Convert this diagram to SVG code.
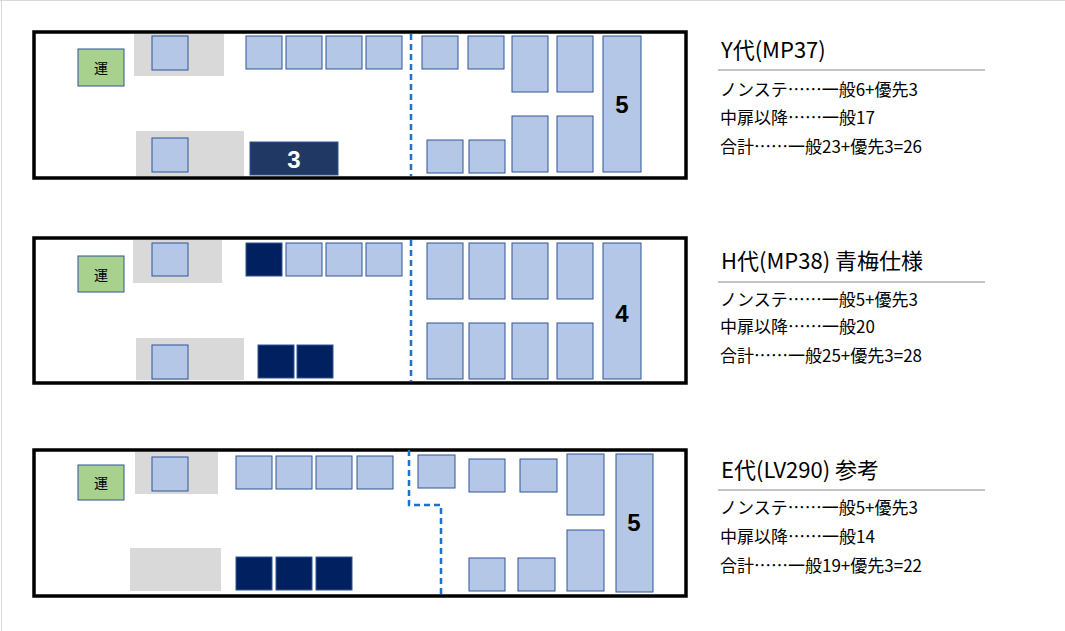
<svg xmlns="http://www.w3.org/2000/svg" width="1065" height="631" viewBox="0 0 1065 631">
<style>
.bus{fill:#fff;stroke:#000;stroke-width:3.5}
.g{fill:#d9d9d9}
.s{fill:#b4c7e7;stroke:#2f5597;stroke-width:1}
.d{fill:#002060;stroke:#2f5597;stroke-width:1}
.drv{fill:#a9d18e;stroke:#2f5597;stroke-width:1}
.dash{fill:none;stroke:#1f70c8;stroke-width:2.5;stroke-dasharray:6,4}
.t{font-family:"Noto Sans CJK JP","Noto Sans",sans-serif;font-size:22px;fill:#000}
.i{font-family:"Noto Sans CJK JP","Noto Sans",sans-serif;font-size:17px;fill:#000}
.n{font-family:"Liberation Sans",Arial,sans-serif;font-weight:bold;font-size:24px;text-anchor:middle}
.k{font-family:"Noto Sans CJK JP",serif;font-size:14px;text-anchor:middle}
.hl{stroke:#888;stroke-width:1}
</style>
<rect x="0" y="0" width="1065" height="631" fill="#fff"/>
<line x1="1.5" y1="0" x2="1.5" y2="631" stroke="#d9d9d9"/>
<line x1="0" y1="0.5" x2="1065" y2="0.5" stroke="#d9d9d9"/>
<g id="bus-Y">
<rect class="bus" x="34" y="32" width="652" height="146"/>
<rect class="g" x="134" y="34" width="90" height="42"/>
<rect class="g" x="136" y="131" width="108" height="45"/>
<rect class="drv" x="78" y="49" width="46" height="37"/><text class="k" x="101" y="73">運</text>
<rect class="s" x="152" y="36" width="36" height="34"/>
<rect class="s" x="246" y="36" width="36" height="33"/><rect class="s" x="286" y="36" width="36" height="33"/><rect class="s" x="326" y="36" width="36" height="33"/><rect class="s" x="366" y="36" width="36" height="33"/>
<rect class="s" x="422" y="36" width="36" height="33"/><rect class="s" x="468" y="36" width="36" height="33"/>
<rect class="s" x="512" y="36" width="36" height="56"/><rect class="s" x="557" y="36" width="36" height="56"/>
<rect class="s" x="603" y="36" width="38" height="136"/><text class="n" x="622" y="113">5</text>
<rect class="s" x="152" y="138" width="36" height="34"/>
<rect x="250" y="142" width="88" height="33" fill="#1f3864" stroke="#2f5597"/><text class="n" x="294" y="168" fill="#fff">3</text>
<rect class="s" x="427" y="140" width="36" height="33"/><rect class="s" x="469" y="140" width="36" height="33"/>
<rect class="s" x="512" y="116" width="36" height="56"/><rect class="s" x="557" y="116" width="36" height="56"/>
</g>
<g id="bus-H">
<rect class="bus" x="34" y="238" width="652" height="145"/>
<rect class="g" x="133" y="240" width="89" height="43"/>
<rect class="g" x="136" y="338" width="108" height="42"/>
<rect class="drv" x="78" y="256" width="46" height="36"/><text class="k" x="101" y="280">運</text>
<rect class="s" x="152" y="243" width="36" height="33"/>
<rect class="d" x="246" y="243" width="36" height="33"/><rect class="s" x="286" y="243" width="36" height="33"/><rect class="s" x="326" y="243" width="36" height="33"/><rect class="s" x="366" y="243" width="36" height="33"/>
<rect class="s" x="427" y="243" width="36" height="56"/><rect class="s" x="469" y="243" width="36" height="56"/><rect class="s" x="512" y="243" width="36" height="56"/><rect class="s" x="557" y="243" width="36" height="56"/>
<rect class="s" x="603" y="243" width="38" height="136"/><text class="n" x="622" y="322">4</text>
<rect class="s" x="152" y="345" width="36" height="34"/>
<rect class="d" x="258" y="345" width="36" height="33"/><rect class="d" x="297" y="345" width="36" height="33"/>
<rect class="s" x="427" y="323" width="36" height="56"/><rect class="s" x="469" y="323" width="36" height="56"/><rect class="s" x="512" y="323" width="36" height="56"/><rect class="s" x="557" y="323" width="36" height="56"/>
</g>
<g id="bus-E">
<rect class="bus" x="34" y="450" width="652" height="146"/>
<rect class="g" x="135" y="452" width="83" height="42"/>
<rect class="g" x="130" y="548" width="91" height="43"/>
<rect class="drv" x="78" y="465" width="46" height="35"/><text class="k" x="101" y="488">運</text>
<rect class="s" x="152" y="457" width="36" height="34"/>
<rect class="s" x="236" y="456" width="36" height="33"/><rect class="s" x="276" y="456" width="36" height="33"/><rect class="s" x="316" y="456" width="36" height="33"/><rect class="s" x="357" y="456" width="36" height="33"/>
<rect class="s" x="418" y="455" width="37" height="33"/><rect class="s" x="469" y="459" width="36" height="33"/><rect class="s" x="520" y="459" width="37" height="33"/>
<rect class="s" x="567" y="454" width="37" height="61"/>
<rect class="s" x="616" y="454" width="37" height="138"/><text class="n" x="634" y="531">5</text>
<rect class="d" x="236" y="557" width="36" height="33"/><rect class="d" x="276" y="557" width="36" height="33"/><rect class="d" x="316" y="557" width="36" height="33"/>
<rect class="s" x="469" y="558" width="36" height="33"/><rect class="s" x="518" y="558" width="37" height="33"/>
<rect class="s" x="567" y="530" width="37" height="61"/>
</g>
<g id="connectors">
<line class="dash" x1="411" y1="34" x2="411" y2="176"/>
<line class="dash" x1="411" y1="240" x2="411" y2="381"/>
<path class="dash" d="M409 450 V505 H441 V596"/>
</g>
<g id="text-Y">
<text class="t" x="721" y="58">Y代(MP37)</text>
<line class="hl" x1="718" y1="70" x2="985" y2="70"/>
<text class="i" x="720" y="96">ノンステ……一般6+優先3</text>
<text class="i" x="720" y="124">中扉以降……一般17</text>
<text class="i" x="720" y="153">合計……一般23+優先3=26</text>
</g>
<g id="text-H">
<text class="t" x="721" y="269">H代(MP38) 青梅仕様</text>
<line class="hl" x1="718" y1="282" x2="985" y2="282"/>
<text class="i" x="720" y="306">ノンステ……一般5+優先3</text>
<text class="i" x="720" y="333">中扉以降……一般20</text>
<text class="i" x="720" y="362">合計……一般25+優先3=28</text>
</g>
<g id="text-E">
<text class="t" x="721" y="478">E代(LV290) 参考</text>
<line class="hl" x1="718" y1="490" x2="985" y2="490"/>
<text class="i" x="720" y="514">ノンステ……一般5+優先3</text>
<text class="i" x="720" y="543">中扉以降……一般14</text>
<text class="i" x="720" y="572">合計……一般19+優先3=22</text>
</g>
</svg>
